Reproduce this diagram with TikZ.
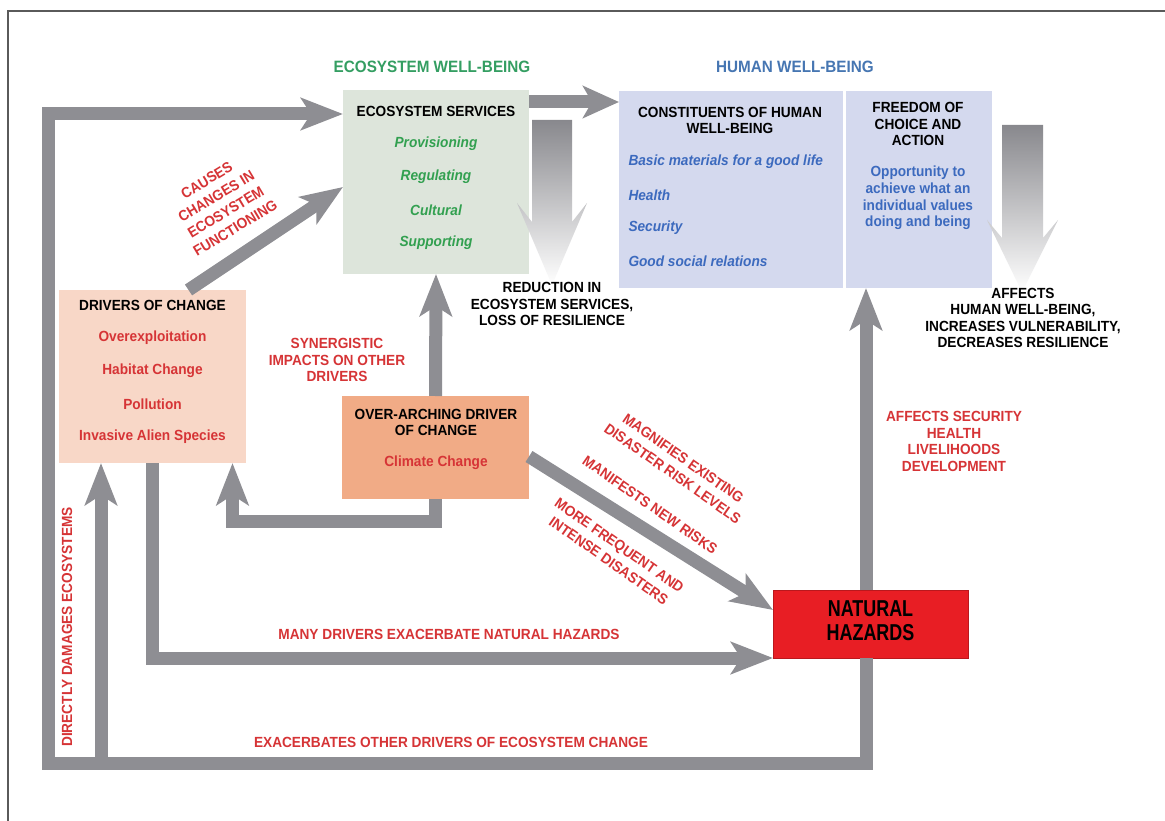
\documentclass[tikz,border=0pt]{standalone}
\usepackage{fontspec}
\setmainfont{Liberation Sans}[FakeStretch=0.93]
\newfontfamily\condfont{Liberation Sans}[FakeStretch=0.78]
\usetikzlibrary{arrows.meta}
\definecolor{arrowgray}{RGB}{142,142,147}
\definecolor{esfill}{RGB}{221,229,219}
\definecolor{hwbfill}{RGB}{212,217,238}
\definecolor{drvfill}{RGB}{248,215,199}
\definecolor{ovfill}{RGB}{241,171,134}
\definecolor{nhfill}{RGB}{232,30,36}
\definecolor{grtitle}{RGB}{52,158,98}
\definecolor{grtext}{RGB}{50,160,80}
\definecolor{bltitle}{RGB}{70,118,178}
\definecolor{bltext}{RGB}{60,106,190}
\definecolor{rdtext}{RGB}{214,52,54}
\definecolor{framecol}{RGB}{90,90,90}
\begin{document}
\begin{tikzpicture}[x=1pt,y=-1pt,
  every node/.style={inner sep=0pt, outer sep=0pt, font=\fontsize{14.7}{16.6}\selectfont\bfseries},
  box/.style={draw=none, rectangle},
  garrow/.style={draw=arrowgray, line width=13pt, line join=miter,
     -{Stealth[length=42pt,width=32pt,inset=10pt]}},
  hdr/.style={text=black, align=center},
  title/.style={font=\fontsize{16.4}{18}\selectfont\bfseries},
  gri/.style={text=grtext, font=\fontsize{14.7}{16.6}\selectfont\bfseries\itshape},
  bli/.style={text=bltext, anchor=west, font=\fontsize{14.7}{16.6}\selectfont\bfseries\itshape},
  blt/.style={text=bltext, align=center},
  rd/.style={text=rdtext, align=center},
  rdwide/.style={text=rdtext, align=center, font=\fontsize{14.7}{18.5}\selectfont\bfseries},
  grad/.style={top color=arrowgray!96!black, bottom color=white}
]
\useasboundingbox (0,0) rectangle (1165,821);
\fill[white] (0,0) rectangle (1165,821);
\draw[framecol, line width=1.4pt] (8,821) -- (8,11) -- (1165,11);

% boxes
\node[box, fill=esfill, minimum width=186pt, minimum height=184pt] (es) at (436,182) {};
\node[box, fill=hwbfill, minimum width=224pt, minimum height=197pt] (con) at (731,189.5) {};
\node[box, fill=hwbfill, minimum width=146pt, minimum height=197pt] (free) at (919,189.5) {};
\node[box, fill=drvfill, minimum width=187pt, minimum height=173pt] (drv) at (152.5,376.5) {};
\node[box, fill=ovfill, minimum width=187pt, minimum height=103pt] (over) at (435.5,447.5) {};
\node[box, fill=nhfill, draw=nhfill!80!black, line width=0.6pt, minimum width=195pt, minimum height=68pt] (nh) at (870.5,624) {};

% gradient arrows
\shade[grad] (532,120) -- (572,120) -- (572,222) -- (587,203) -- (552,285) -- (517,203) -- (532,222) -- cycle;
\shade[grad] (1002,125) -- (1043,125) -- (1043,238) -- (1058,220) -- (1022,292) -- (987,220) -- (1002,238) -- cycle;

% connector coordinates
\coordinate (nhbot) at ([xshift=-4.5pt]nh.south);
\coordinate (nhtop) at ([xshift=-4.5pt]nh.north);
\coordinate (br) at (866,763);
\coordinate (bl) at (48,763);
\coordinate (tl) at (48,114);
\coordinate (bu) at (101,763);
\coordinate (esR) at ([yshift=-12pt]es.north east);

% gray arrows
\draw[garrow] (nhbot) -- (br) -- (bl) -- (tl) -- (es.west |- tl);
\draw[garrow] (bu) -- (bu |- drv.south);
\draw[garrow] (nhtop) -- (nhtop |- free.south);
\draw[garrow, -{Stealth[length=36pt,width=32pt,inset=9pt]}] (esR) -- (esR -| con.west);
\draw[garrow] ([xshift=36pt]drv.north) -- ([yshift=-5pt]es.west);
\draw[garrow] (over.north) -- (es.south);
\draw[garrow] (over.south) -- ++(0,22) -| ([xshift=80pt]drv.south);
\draw[garrow] (drv.south) |- (nh.south west);
\draw[garrow] ([yshift=-9pt]over.east) -- ([yshift=14pt]nh.west);

% titles
\node[title, text=grtitle] (ttl1) at (432,67) {ECOSYSTEM WELL-BEING};
\node[title, text=bltitle] (ttl2) at (795,67) {HUMAN WELL-BEING};

% ecosystem services
\node[hdr] (es0) at (436,111) {ECOSYSTEM SERVICES};
\node[gri] (es1) at (436,144) {Provisioning};
\node[gri] (es2) at (436,177) {Regulating};
\node[gri] (es3) at (436,210) {Cultural};
\node[gri] (es4) at (436,243) {Supporting};

% human well-being
\node[hdr] (con0) at (730,120.5) {CONSTITUENTS OF HUMAN\\WELL-BEING};
\node[bli] (con1) at (628.5,162) {Basic materials for a good life};
\node[bli] (con2) at (628.5,195) {Health};
\node[bli] (con3) at (628.5,228) {Security};
\node[bli] (con4) at (628.5,261) {Good social relations};
\node[hdr] (fr0) at (918,124) {FREEDOM OF\\CHOICE AND\\ACTION};
\node[blt] (fr1) at (918,198) {Opportunity to\\achieve what an\\individual values\\doing and being};

% drop arrow labels
\node[hdr] (red) at (552,304) {REDUCTION IN\\ECOSYSTEM SERVICES,\\LOSS OF RESILIENCE};
\node[hdr] (affh) at (1023,318) {AFFECTS\\HUMAN WELL-BEING,\\INCREASES VULNERABILITY,\\DECREASES RESILIENCE};

% drivers
\node[hdr] (d0) at (152.5,305) {DRIVERS OF CHANGE};
\node[rd] (d1) at (152.5,338) {Overexploitation};
\node[rd] (d2) at (152.5,371) {Habitat Change};
\node[rd] (d3) at (152.5,404) {Pollution};
\node[rd] (d4) at (152.5,437) {Invasive Alien Species};

% over-arching
\node[hdr] (o0) at (436,422.5) {OVER-ARCHING DRIVER\\OF CHANGE};
\node[rd] (o1) at (436,463) {Climate Change};

% natural hazards
\node[hdr, font={\condfont\fontsize{23}{24}\selectfont\bfseries}] (nht) at (870.5,621) {NATURAL\\HAZARDS};

% red connector labels
\node[rdwide, rotate=31] (causes) at (221,204) {CAUSES\\CHANGES IN\\ECOSYSTEM\\FUNCTIONING};
\node[rd] (syn) at (337,360) {SYNERGISTIC\\IMPACTS ON OTHER\\DRIVERS};
\node[rdwide, rotate=-35] (magn) at (678,466) {MAGNIFIES EXISTING\\DISASTER RISK LEVELS};
\node[rd, rotate=-35] (mani) at (650,505) {MANIFESTS NEW RISKS};
\node[rdwide, rotate=-35] (more) at (614,553) {MORE FREQUENT AND\\INTENSE DISASTERS};
\node[rd] (aff) at (954,441.5) {AFFECTS SECURITY\\HEALTH\\LIVELIHOODS\\DEVELOPMENT};
\node[rd] (many) at (449,634) {MANY DRIVERS EXACERBATE NATURAL HAZARDS};
\node[rd] (exac) at (451,742) {EXACERBATES OTHER DRIVERS OF ECOSYSTEM CHANGE};
\node[rd, rotate=90] (dam) at (67,627) {DIRECTLY DAMAGES ECOSYSTEMS};
\end{tikzpicture}
\end{document}
